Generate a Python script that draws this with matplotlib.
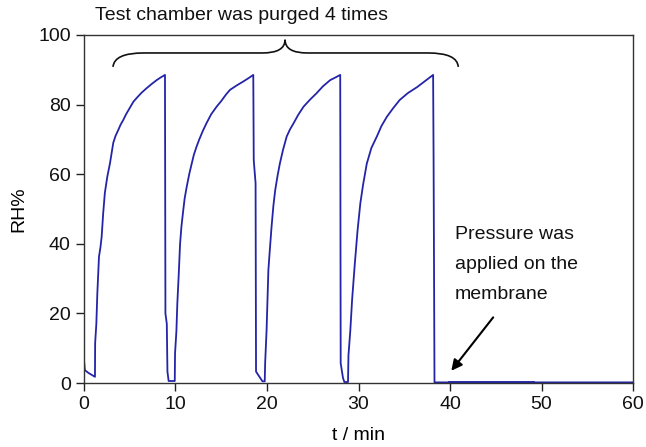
# plot.py
# Relative humidity in the test chamber over time, with four purge cycles.

import matplotlib
matplotlib.use("Agg")

import matplotlib.pyplot as plt
from matplotlib.path import Path
from matplotlib.patches import PathPatch

# Time points (min).
t_min = [
    0.0, 0.1, 0.5, 1.2, 1.22, 1.35, 1.46, 1.64, 1.8, 1.93, 2.1, 2.28, 2.55, 2.84,
    3.2, 3.45, 3.75, 4.0, 4.3, 4.6, 5.0, 5.4, 5.8, 6.3, 6.85, 7.4, 7.94, 8.4, 8.85,
    8.9, 9.05, 9.12, 9.25, 9.92,
    9.95, 10.1, 10.2, 10.35, 10.5, 10.65, 10.85, 11.0, 11.2, 11.5, 11.77, 12.0,
    12.3, 12.6, 13.0, 13.4, 13.9, 14.5, 15.0, 15.5, 15.95, 16.7, 17.4, 18.0, 18.5,
    18.55, 18.75, 18.8, 19.5, 19.75,
    19.8, 19.95, 20.15, 20.3, 20.5, 20.7, 20.9, 21.15, 21.4, 21.75, 22.15, 22.5,
    22.9, 23.4, 24.0, 24.7, 25.4, 26.1, 26.9, 27.5, 28.0,
    28.05, 28.3, 28.45, 28.85,
    28.9, 29.1, 29.3, 29.6, 29.9, 30.2, 30.5, 30.9, 31.4, 32.0, 32.5, 33.1, 33.8,
    34.5, 35.4, 36.4, 37.3, 38.15,
    38.2, 38.3, 60.0,
]

# Relative humidity (%) at those time points.
rh = [
    6.6, 3.7, 2.9, 1.8, 11.5, 17, 25.8, 36.3, 39, 42, 48.8, 54.6, 59.3, 63.1,
    69, 71, 72.7, 74.2, 75.6, 77.2, 79, 80.8, 82, 83.4, 84.7, 85.9, 87, 87.8, 88.5,
    20, 17, 3.3, 0.6, 0.6,
    8.5, 15, 22.9, 31, 40, 45, 49.7, 53, 56, 60, 63, 65.5,
    67.9, 70, 72.5, 74.7, 77.2, 79.4, 81, 82.8, 84.2, 85.5, 86.6, 87.6, 88.5,
    64, 57.4, 3.3, 0.5, 0.5,
    6, 15, 32.5, 38, 45, 51, 55.5, 59.5, 63, 67, 70.8, 72.8,
    74.6, 77, 79.4, 81.4, 83.2, 85.2, 87, 87.8, 88.5,
    5.7, 1.5, 0.3, 0.3,
    8, 15, 24, 34.5, 44, 51.7, 57, 63, 67.5, 70.8, 73.8, 76.5, 79,
    81.3, 83.3, 85, 86.8, 88.5,
    65, 0.2, 0.2,
]

# Short reading after pressure was applied on the membrane.
t_pressure = [39.9, 49.1]
rh_pressure = [0.4, 0.4]

# Axis ticks.
x_ticks = [0, 10, 20, 30, 40, 50, 60]
y_ticks = [0, 20, 40, 60, 80, 100]

# Use an Arial-like font.
plt.rcParams["font.family"] = ["Liberation Sans", "DejaVu Sans"]
plt.rcParams["font.size"] = 14

# Create the figure at the reference size.
fig = plt.figure(figsize=(6.46, 4.47), dpi=100)
ax = fig.add_axes([0.130, 0.143, 0.850, 0.779])

# Draw the humidity trace.
line_color = "#2424a8"
ax.plot(t_min, rh, color=line_color, linewidth=1.3)
ax.plot(t_pressure, rh_pressure, color=line_color, linewidth=2.0)

# Axis limits, ticks and labels.
ax.set_xlim(0, 60)
ax.set_ylim(0, 100)
ax.set_xticks(x_ticks)
ax.set_yticks(y_ticks)
ax.tick_params(direction="out", length=6, width=1.0, colors="#222222", labelcolor="#111111")
ax.set_xlabel("t / min", labelpad=10)
ax.set_ylabel("RH%", labelpad=8)

# Frame around the plot.
for spine in ax.spines.values():
    spine.set_color("#333333")
    spine.set_linewidth(1.0)

# Curly brace over the four purge cycles.
brace_verts = [
    (3.17, 90.8), (3.3, 94.8), (6.5, 94.8),
    (19.5, 94.8),
    (21.97, 94.8), (21.97, 98.6),
    (21.97, 94.8), (24.4, 94.8),
    (37.6, 94.8),
    (40.8, 94.8), (40.9, 90.8),
]
brace_codes = [
    Path.MOVETO, Path.CURVE3, Path.CURVE3,
    Path.LINETO,
    Path.CURVE3, Path.CURVE3,
    Path.CURVE3, Path.CURVE3,
    Path.LINETO,
    Path.CURVE3, Path.CURVE3,
]
brace = PathPatch(Path(brace_verts, brace_codes), facecolor="none", edgecolor="#111111", linewidth=1.2, clip_on=False)
ax.add_patch(brace)

# Label above the brace.
fig.text(95 / 646, 1 - 16 / 447, "Test chamber was purged 4 times", ha="left", va="center", color="#111111")

# Note with arrow pointing at the pressure step.
ax.annotate("", xy=(39.95, 2.9), xytext=(44.9, 19.5),
            arrowprops=dict(arrowstyle="-|>", color="black", linewidth=1.5, mutation_scale=16))
ax.text(40.5, 45.0, "Pressure was\napplied on the\nmembrane", ha="left", va="top", color="#111111", linespacing=2.0)

# Save the figure.
fig.savefig("out.png", dpi=100)
plt.close(fig)
